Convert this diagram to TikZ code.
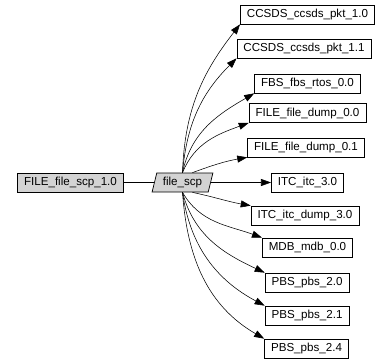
\documentclass[tikz,border=0pt]{standalone}
\usepackage{fontspec}
\setmainfont{Liberation Sans}
\usepackage{tikz}
\usetikzlibrary{arrows.meta,positioning,shapes.geometric}
\usepackage{xcolor}
\definecolor{nodegray}{HTML}{D3D3D3}

\begin{document}
\begin{tikzpicture}[x=1bp,y=-1bp,
    box/.style={draw, rectangle, minimum height=19bp, inner xsep=6.5bp, inner ysep=0pt,
      font=\fontsize{11.6bp}{13bp}\selectfont, line width=0.7bp},
    para/.style={draw, trapezium, trapezium left angle=70, trapezium right angle=110,
      trapezium stretches, minimum height=19bp, minimum width=61bp, inner xsep=2bp, inner ysep=0pt,
      fill=nodegray, font=\fontsize{11.6bp}{13bp}\selectfont, line width=0.7bp},
    dep/.style={-{Triangle[length=10bp,width=7bp]}, line width=0.55bp}]
  \useasboundingbox (0,0) rectangle (391,364);

  % 元のファイル
  \node (fscp) [box, fill=nodegray] at (70.5,182.5) {FILE\_file\_scp\_1.0};
  \node (scp) [para] at (182.5,182.5) {file\_scp};

  % 依存先の列
  \node (pkt10) [box] at (307.5,14.5) {CCSDS\_ccsds\_pkt\_1.0};
  \node (pkt11) [box] at (304,48.5) {CCSDS\_ccsds\_pkt\_1.1};
  \node (rtos) [box] at (307.5,83.5) {FBS\_fbs\_rtos\_0.0};
  \node (dump00) [box] at (307.5,113) {FILE\_file\_dump\_0.0};
  \node (dump01) [box] at (306,147.5) {FILE\_file\_dump\_0.1};
  \node (itc) [box] at (307.5,182.5) {ITC\_itc\_3.0};
  \node (itcdump) [box] at (305,215.5) {ITC\_itc\_dump\_3.0};
  \node (mdb) [box] at (307.5,247.5) {MDB\_mdb\_0.0};
  \node (pbs20) [box] at (307,282.5) {PBS\_pbs\_2.0};
  \node (pbs21) [box] at (307,315.5) {PBS\_pbs\_2.1};
  \node (pbs24) [box] at (306.5,348.5) {PBS\_pbs\_2.4};

  % 入力
  \draw[line width=0.55bp] (fscp) -- (scp);

  % 上向きの依存
  \draw[dep] (scp.north) to[out=88,in=232] (pkt10.south west);
  \draw[dep] (scp.north) to[out=85,in=225] (pkt11.south west);
  \draw[dep] (scp.north) to[out=78,in=210] (rtos.south west);
  \draw[dep] (scp.north) to[out=68,in=200] (dump00.south west);
  \draw[dep] (scp.north east) to[out=20,in=190] (dump01.south west);

  % 横と下向きの依存
  \draw[dep] (scp.east) -- (itc.west);
  \draw[dep] (scp.south east) to[out=-12,in=170] (itcdump.north west);
  \draw[dep] (scp.south) to[out=-60,in=160] (mdb.north west);
  \draw[dep] (scp.south) to[out=-75,in=155] (pbs20.north west);
  \draw[dep] (scp.south) to[out=-82,in=152] (pbs21.north west);
  \draw[dep] (scp.south) to[out=-86,in=150] (pbs24.north west);
\end{tikzpicture}
\end{document}
